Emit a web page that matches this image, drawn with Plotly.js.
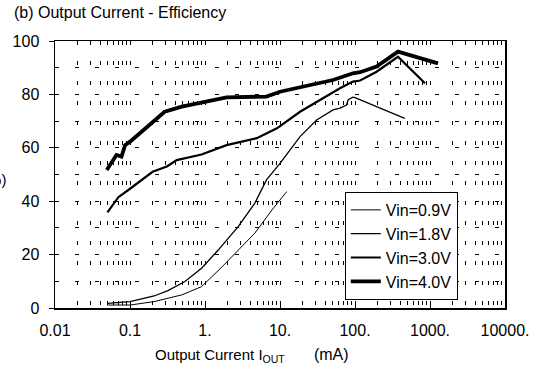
<!DOCTYPE html>
<html>
<head>
<meta charset="utf-8">
<script src="https://cdn.plot.ly/plotly-3.0.1.min.js"></script>
<style>html,body{margin:0;padding:0;background:#fff;}#chart{width:541px;height:371px;}</style>
</head>
<body>
<div id="chart"></div>
<script>
// Vin = 0.9 V
const x09 = [0.05, 0.1, 0.21, 0.49, 0.9, 1.7, 4.6, 7.8, 12.3];
const y09 = [1.1, 1.1, 2.4, 4.9, 8.0, 15.5, 28.0, 36.7, 43.6];
// Vin = 1.8 V
const x18 = [0.05, 0.1, 0.21, 0.32, 0.54, 0.9, 1.5, 2.77, 4.6, 6.6, 10, 18.5, 30.8, 51, 63, 77, 81, 94, 100, 460];
const y18 = [1.7, 2.4, 4.5, 6.5, 9.9, 14.9, 21.7, 30.5, 39.2, 48.0, 54.2, 64.2, 70.4, 74.2, 74.9, 76.0, 78.0, 79.0, 78.8, 71.0];
// Vin = 3.0 V
const x30 = [0.05, 0.07, 0.095, 0.2, 0.31, 0.42, 0.9, 1.94, 4.9, 9.1, 18.5, 34, 63, 94, 117, 194, 374, 857];
const y30 = [35.8, 41.5, 44.2, 51.0, 53.0, 55.4, 57.5, 61.0, 63.6, 67.3, 73.5, 77.9, 82.3, 84.8, 85.2, 88.5, 94.1, 84.2];
// Vin = 4.0 V
const x40 = [0.049, 0.066, 0.077, 0.086, 0.1, 0.194, 0.29, 0.49, 1.0, 1.94, 6.6, 10, 50.9, 94, 117, 194, 374, 1279];
const y40 = [51.7, 57.3, 56.7, 61.0, 62.3, 69.3, 73.5, 75.4, 77.3, 78.9, 79.2, 81.0, 85.4, 87.9, 88.3, 90.4, 96.0, 91.6];

const seriesNames = ["Vin=0.9V", "Vin=1.8V", "Vin=3.0V", "Vin=4.0V"];
const xTickVals = [0.01, 0.1, 1, 10, 100, 1000, 10000];
const xTickText = ["0.01", "0.1", "1.", "10.", "100.", "1000.", "10000."];
const yTickVals = [0, 20, 40, 60, 80, 100];

const widths = [1, 1.3, 2.2, 3.8];
const xs = [x09, x18, x30, x40];
const ys = [y09, y18, y30, y40];
const data = seriesNames.map((n, i) => ({
  x: xs[i], y: ys[i], name: n, type: 'scatter', mode: 'lines',
  line: {color: '#000', width: widths[i]}
}));

const font = {family: 'Liberation Sans, Arial, sans-serif', color: '#000'};
const layout = {
  width: 541, height: 371,
  margin: {l: 55, r: 36, t: 41, b: 63},
  paper_bgcolor: '#fff', plot_bgcolor: '#fff',
  font: Object.assign({size: 14}, font),
  showlegend: true,
  legend: {
    x: 0.644, y: 0.03, xanchor: 'left', yanchor: 'bottom',
    bgcolor: '#fff', bordercolor: '#000', borderwidth: 1,
    font: Object.assign({size: 16}, font),
    tracegroupgap: 0, itemwidth: 30
  },
  xaxis: {
    type: 'log', range: [-2, 4],
    tickvals: xTickVals, ticktext: xTickText,
    ticks: 'inside', ticklen: 4, tickcolor: '#000',
    ticklabelstandoff: 7,
    showgrid: false, zeroline: false,
    showline: true, linecolor: '#000', linewidth: 1.5, mirror: true,
    tickfont: Object.assign({size: 16}, font),
    minor: {dtick: 'D1', showgrid: true, gridcolor: '#000', gridwidth: 1, griddash: '4px,16px', ticks: ''}
  },
  yaxis: {
    range: [0, 100], tickvals: yTickVals,
    ticks: 'outside', ticklen: 5, tickcolor: '#000',
    ticklabelstandoff: 6,
    showgrid: true, gridcolor: '#000', gridwidth: 1, griddash: '4px,16px',
    zeroline: false,
    showline: true, linecolor: '#000', linewidth: 1.5, mirror: true,
    tickfont: Object.assign({size: 16}, font),
    minor: {dtick: 10, showgrid: true, gridcolor: '#000', gridwidth: 1, griddash: '4px,16px', ticks: ''}
  },
  annotations: [
    {text: '(b) Output Current - Efficiency', xref: 'paper', yref: 'paper',
     x: -0.096, y: 1.105, xanchor: 'left', yanchor: 'middle', showarrow: false,
     font: Object.assign({size: 16}, font)},
    {text: 'Output Current I<sub>OUT</sub>&nbsp;&nbsp;&nbsp;&nbsp;&nbsp;&nbsp;&nbsp;<span style="font-size:16px">(mA)</span>',
     xref: 'paper', yref: 'paper', x: 0.438, y: -0.177, xanchor: 'center', yanchor: 'middle',
     showarrow: false, font: Object.assign({size: 15}, font)},
    {text: 'Efficiency (%)', xref: 'paper', yref: 'paper', x: -0.104, y: 0.48,
     xanchor: 'right', yanchor: 'middle', showarrow: false, font: Object.assign({size: 15}, font)}
  ]
};
Plotly.newPlot('chart', data, layout, {displayModeBar: false, staticPlot: true});
</script>
</body>
</html>
